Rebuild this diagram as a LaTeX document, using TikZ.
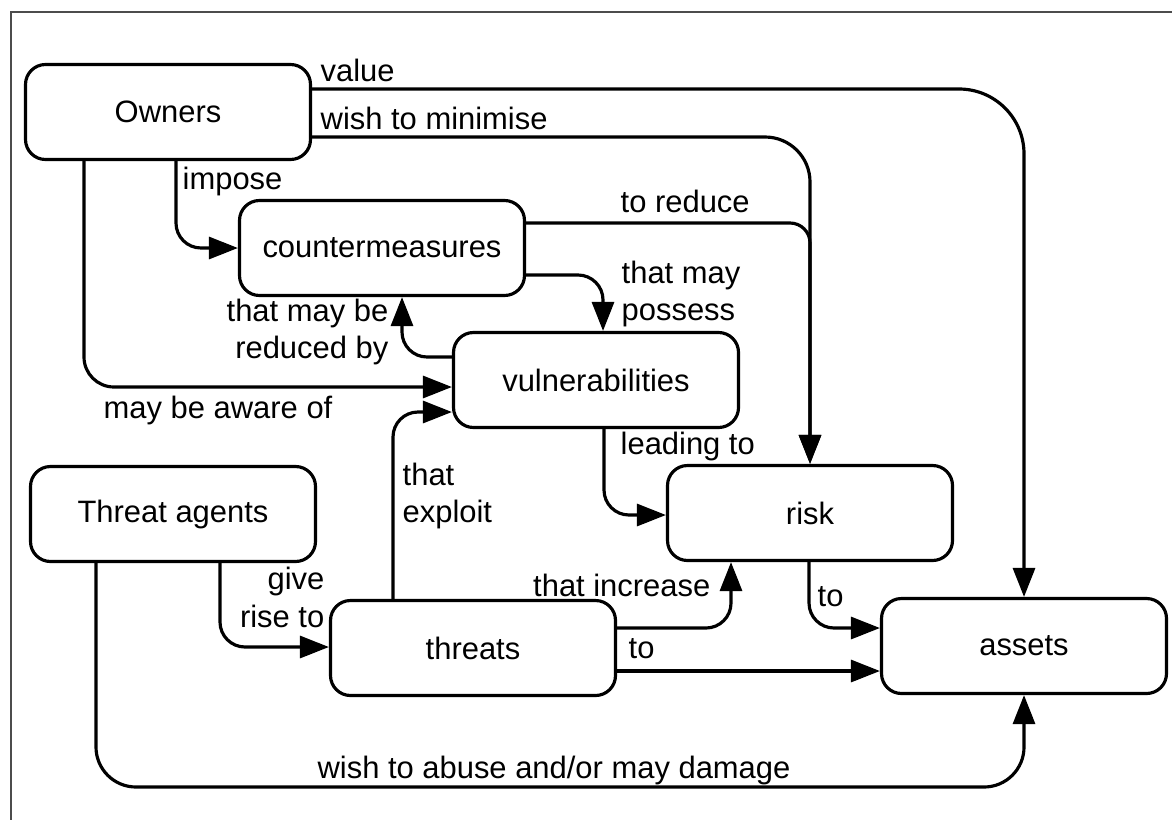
\documentclass[tikz,border=0pt]{standalone}
\usepackage{fontspec}
\setmainfont{Liberation Sans}
\usetikzlibrary{arrows.meta,calc}
\newcommand{\diagfont}{\fontsize{8.8}{10.8}\selectfont}
\tikzset{
  box/.style={draw,rounded corners=2mm,minimum width=28.5mm,minimum height=9.5mm,line width=0.9pt,font=\diagfont},
  conn/.style={line width=0.9pt,-{Triangle[length=2.9mm,width=2.2mm]}},
  lbl/.style={font=\diagfont,inner sep=0pt}
}

\begin{document}
\begin{tikzpicture}[x=0.1mm,y=-0.1mm]
  \useasboundingbox (0,0) rectangle (1172,819);
  \draw[black!70,line width=0.8pt] (11,830) -- (11,12) -- (1180,12);

  % entities
  \node[box] (owners) at (168,112) {\raisebox{-0.6mm}{Owners}};
  \node[box] (counter) at (382,248) {countermeasures};
  \node[box] (vuln) at (596,380) {vulnerabilities};
  \node[box] (agents) at (173,514) {Threat agents};
  \node[box] (risk) at (810,513) {risk};
  \node[box] (threats) at (473,648) {threats};
  \node[box] (assets) at (1024,646) {assets};

  % owners
  \draw[conn,rounded corners=6.5mm] (owners.east |- 0,89) -- (assets.north |- 0,89) -- (assets.north);
  \draw[conn,rounded corners=4.5mm] (owners.east |- 0,137) -- (risk.north |- 0,137) -- (risk.north);
  \draw[conn,rounded corners=2.5mm] (owners.south -| 176,0) -- (176,248) -- (counter.west);
  \draw[conn,rounded corners=3mm] (owners.south -| 84,0) -- (84,387) -- (vuln.west |- 0,387);
  % countermeasures
  \draw[conn,rounded corners=2mm] (counter.east |- 0,223) -- (risk.north |- 0,223) -- (risk.north);
  \draw[conn,rounded corners=2.5mm] (counter.east |- 0,275) -- (603,275) -- (vuln.north -| 603,0);
  % vulnerabilities
  \draw[conn,rounded corners=2.5mm] (vuln.west |- 0,357) -- (402,357) -- (counter.south -| 402,0);
  \draw[conn,rounded corners=2.5mm] (vuln.south -| 604,0) -- (604,515) -- (risk.west |- 0,515);
  % threat agents
  \draw[conn,rounded corners=2.5mm] (agents.south -| 220,0) -- (220,647) -- (threats.west |- 0,647);
  \draw[conn,rounded corners=4mm] (agents.south -| 96,0) -- (96,787) -- (assets.south |- 0,787) -- (assets.south);
  % threats
  \draw[conn,rounded corners=2.5mm] (threats.north -| 393,0) -- (393,412) -- (vuln.west |- 0,412);
  \draw[conn,rounded corners=2.5mm] (threats.east |- 0,628) -- (731,628) -- (risk.south -| 731,0);
  \draw[conn] (threats.east |- 0,671) -- (assets.west |- 0,671);
  % risk
  \draw[conn,rounded corners=2.5mm] (risk.south -| 809,0) -- (809,628) -- (assets.west |- 0,628);

  % labels
  \node[lbl,anchor=west] (lvalue) at (320,70) {value};
  \node[lbl,anchor=west] (lmin) at (320,118) {wish to minimise};
  \node[lbl,anchor=west] (limpose) at (182,182) {impose};
  \node[lbl,anchor=west] (lreduce) at (620,201) {to reduce};
  \node[lbl,anchor=west,align=left] (lpossess) at (621,294) {that may\\possess};
  \node[lbl,anchor=east,align=right] (lreduced) at (389,332) {that may be\\reduced by};
  \node[lbl,anchor=west] (laware) at (103,410) {may be aware of};
  \node[lbl,anchor=west] (lleading) at (620,446) {leading to};
  \node[lbl,anchor=west,align=left] (lexploit) at (402,496) {that\\exploit};
  \node[lbl,anchor=east,align=right] (lrise) at (325,597) {give\\rise to};
  \node[lbl,anchor=east] (lincrease) at (711,585) {that increase};
  \node[lbl,anchor=west] (lto1) at (817,597) {to};
  \node[lbl,anchor=west] (lto2) at (628,649) {to};
  \node[lbl] (labuse) at (554,770) {wish to abuse and/or may damage};
\end{tikzpicture}
\end{document}
